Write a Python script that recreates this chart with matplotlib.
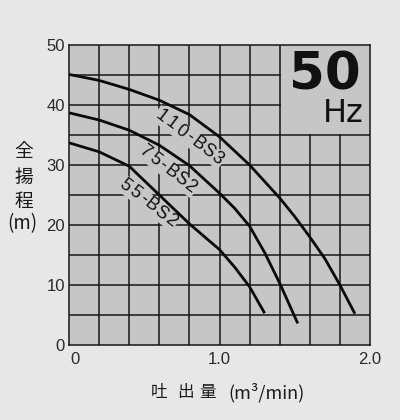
import matplotlib
matplotlib.use('Agg')
import matplotlib.pyplot as plt
from matplotlib.transforms import Affine2D, ScaledTranslation
from matplotlib.patches import Rectangle
import numpy as np

# ---- data ----
flow_110 = [0.0, 0.2, 0.4, 0.6, 0.8, 1.0, 1.2, 1.4, 1.5, 1.6, 1.7, 1.8, 1.9]
head_110 = [45.1, 44.1, 42.6, 40.8, 38.4, 34.7, 30.0, 24.5, 21.4, 18.0, 14.4, 10.0, 5.2]
flow_75 = [0.0, 0.2, 0.4, 0.6, 0.8, 1.0, 1.1, 1.2, 1.3, 1.4, 1.52]
head_75 = [38.7, 37.5, 35.8, 33.3, 29.9, 25.3, 22.8, 19.8, 15.4, 10.3, 3.6]
flow_55 = [0.0, 0.2, 0.4, 0.6, 0.8, 1.0, 1.1, 1.2, 1.3]
head_55 = [33.7, 32.2, 29.8, 25.0, 20.2, 15.9, 13.0, 9.7, 5.3]

curve_names = ["110-BS3", "75-BS2", "55-BS2"]
label_pos = [(0.80, 34.6), (0.655, 29.3), (0.525, 23.7)]
label_rot = [-37, -38, -38]

x_ticks = [0.0, 1.0, 2.0]
x_ticklabels = ["0", "1.0", "2.0"]
y_ticks = [0, 10, 20, 30, 40, 50]
y_ticklabels = ["0", "10", "20", "30", "40", "50"]

ylabel_chars = ["全", "揚", "程", "(m)"]
xlabel_chars = ["吐", "出", "量"]
xlabel_unit = "(m³/min)"

FIG_BG = "#e7e7e7"
AX_BG = "#c6c6c6"
INK = "#161616"

fig = plt.figure(figsize=(4.0, 4.2), dpi=100, facecolor=FIG_BG)
ax = fig.add_axes([69/400, 75/420, 301/400, 300/420])
ax.set_facecolor(AX_BG)
ax.set_xlim(0, 2.0)
ax.set_ylim(0, 50)

# grid (no grid inside the 50Hz box: x 1.4..2.0, y 35..50)
glw = 1.1
for gx in np.arange(0.2, 2.0, 0.2):
    top = 35 if gx > 1.41 else 50
    ax.plot([gx, gx], [0, top], color=INK, lw=glw, zorder=1)
for gy in np.arange(5, 50, 5):
    right = 1.4 if gy > 36 else 2.0
    ax.plot([0, right], [gy, gy], color=INK, lw=glw, zorder=1)

for sp in ax.spines.values():
    sp.set_color(INK)
    sp.set_linewidth(glw)

# curves
for fx, hy in [(flow_110, head_110), (flow_75, head_75), (flow_55, head_55)]:
    ax.plot(fx, hy, color="#0a0a0a", lw=2.0, zorder=4, solid_capstyle='butt')

# curve labels: letter-spaced characters along a rotated line
for name, (lx, ly), rot in zip(curve_names, label_pos, label_rot):
    steps = [8.5 if c == '-' else 12.2 for c in name]
    offs = np.concatenate([[0], np.cumsum([(steps[i] + steps[i+1]) / 2 for i in range(len(name) - 1)])])
    offs = offs - (offs[0] + offs[-1]) / 2
    base = ScaledTranslation(lx, ly, ax.transData)
    total = offs[-1] - offs[0] + 14
    rect = Rectangle((-total/2, -9), total, 18, fc=AX_BG, ec='none', zorder=2,
                     transform=Affine2D().rotate_deg(rot) + base)
    ax.add_patch(rect)
    th = np.deg2rad(rot)
    for c, o in zip(name, offs):
        dx, dy = o * np.cos(th), o * np.sin(th)
        ax.text(0, 0, c, rotation=rot, ha='center', va='center',
                rotation_mode='anchor', fontsize=13, color="#111111",
                family='Liberation Sans', zorder=3,
                transform=Affine2D().translate(dx, dy) + base)

# 50 Hz
ax.text(1.70, 45.0, "50", ha='center', va='center', fontsize=37,
        fontweight='bold', color="#111111", zorder=3)
ax.text(1.82, 38.6, "Hz", ha='center', va='center', fontsize=23,
        color="#111111", zorder=3)

# ticks
ax.set_xticks(x_ticks)
ax.set_xticklabels(x_ticklabels)
ax.set_yticks(y_ticks)
ax.set_yticklabels(y_ticklabels)
ax.tick_params(length=0, labelsize=12, labelcolor="#2a2a2a")
ax.tick_params(axis='x', pad=5)
ax.tick_params(axis='y', pad=3)
for lab in ax.get_xticklabels() + ax.get_yticklabels():
    lab.set_family('Liberation Sans')
xl0 = ax.get_xticklabels()[0]
xl0.set_transform(xl0.get_transform() + ScaledTranslation(6/100, 0, fig.dpi_scale_trans))

cjk = ['Noto Sans CJK JP', 'DejaVu Sans']
ypix = [152, 177, 201, 224]
yxs = [24, 24, 24, 22]
for ch, yp, xp in zip(ylabel_chars, ypix, yxs):
    fig.text(xp/400, 1 - yp/420, ch, ha='center', va='center',
             fontsize=13.5, color="#1a1a1a", family=cjk)

for ch, xp in zip(xlabel_chars, [159.5, 185, 207.5]):
    fig.text(xp/400, 1 - 393/420, ch, ha='center', va='center',
             fontsize=12, color="#1a1a1a", family=cjk)
fig.text(228/400, 1 - 393/420, xlabel_unit, ha='left', va='center',
         fontsize=13, color="#1a1a1a", family=cjk)

fig.savefig("out.png", dpi=100, facecolor=FIG_BG)
